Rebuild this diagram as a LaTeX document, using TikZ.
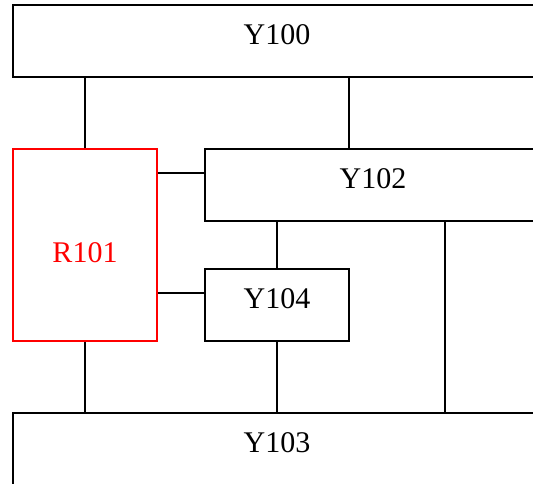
\documentclass[tikz,border=0pt]{standalone}
\usepackage{fontspec}
\setmainfont{Liberation Serif}
\usepackage{tikz}

\begin{document}
\begin{tikzpicture}[x=1pt, y=-1pt,
  blk/.style={draw, line width=1.2pt, inner sep=0pt, text depth=13pt,
    font=\fontsize{30}{36}\selectfont},
  line/.style={line width=1.2pt}]
% Picture frame
\clip (0,0) rectangle (533,483);

% Draw blocks
\node[blk, minimum width=528pt, minimum height=72pt] (Y100) at (277,41) {Y100};
\node[blk, red, text depth=0pt, text height=35pt, minimum width=144pt, minimum height=192pt] (R101) at (85,245) {R101};
\node[blk, minimum width=336pt, minimum height=72pt] (Y102) at (373,185) {Y102};
\node[blk, minimum width=144pt, minimum height=72pt] (Y104) at (277,305) {Y104};
\node[blk, minimum width=528pt, minimum height=72pt] (Y103) at (277,449) {Y103};

% Connect to Y100
\draw[line] (R101.north) -- (R101.north |- Y100.south);
\draw[line] ([xshift=-24pt]Y102.north) -- ([xshift=-24pt]Y102.north |- Y100.south);

% Connect R101 to the right
\draw[line] ([yshift=12pt]Y102.west) -- ([yshift=12pt]Y102.west -| R101.east);
\draw[line] ([yshift=12pt]Y104.west) -- ([yshift=12pt]Y104.west -| R101.east);

% Connect Y102 downwards
\draw[line] (Y104.north) -- (Y104.north |- Y102.south);
\draw[line] ([xshift=72pt]Y102.south) -- ([xshift=72pt]Y102.south |- Y103.north);

% Connect to Y103
\draw[line] (R101.south) -- (R101.south |- Y103.north);
\draw[line] (Y104.south) -- (Y104.south |- Y103.north);
\end{tikzpicture}
\end{document}
